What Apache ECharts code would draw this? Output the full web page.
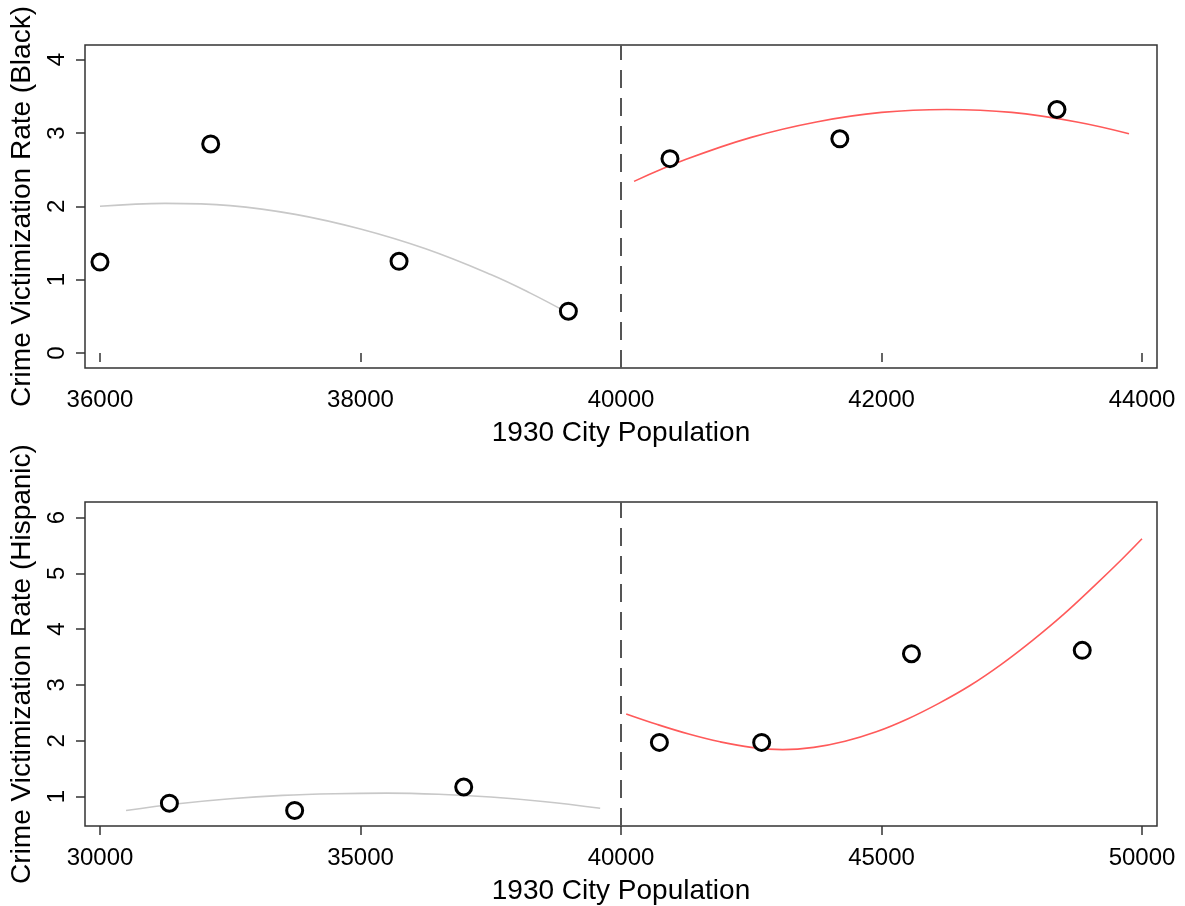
<!DOCTYPE html>
<html>
<head>
<meta charset="utf-8">
<title>Crime Victimization Rate by 1930 City Population</title>
<script src="https://cdn.jsdelivr.net/npm/echarts@6/dist/echarts.min.js"></script>
<style>
  html, body { margin: 0; padding: 0; background: #ffffff; }
  #chart { width: 1185px; height: 906px; }
</style>
</head>
<body>
<div id="chart"></div>
<script>
// ---- Top panel: Black victimization ----
const blackPopulation = [36000, 36850, 38296, 39596, 40376, 41680, 43347];
const blackRate       = [1.24, 2.85, 1.25, 0.57, 2.65, 2.92, 3.32];

// fitted curve below the 40000 cutoff
const blackFitLowX = [36000, 36500, 37000, 37500, 38000, 38500, 39000, 39300, 39600];
const blackFitLowY = [2.00, 2.04, 2.01, 1.89, 1.69, 1.42, 1.07, 0.82, 0.54];
// fitted curve above the cutoff
const blackFitHighX = [40100, 40500, 41000, 41500, 42000, 42500, 43000, 43500, 43900];
const blackFitHighY = [2.34, 2.64, 2.94, 3.15, 3.28, 3.32, 3.28, 3.15, 2.99];

// ---- Bottom panel: Hispanic victimization ----
const hispPopulation = [31332, 33736, 36981, 40737, 42700, 45575, 48853];
const hispRate       = [0.88, 0.75, 1.17, 1.97, 1.97, 3.56, 3.62];

const hispFitLowX = [30500, 31500, 32500, 33500, 34500, 35500, 36500, 37500, 38500, 39600];
const hispFitLowY = [0.75, 0.87, 0.96, 1.02, 1.05, 1.06, 1.04, 0.99, 0.91, 0.79];
const hispFitHighX = [40100, 40700, 41300, 41900, 42500, 43100, 43700, 44300, 44900, 45500,
                      46100, 46700, 47300, 47900, 48500, 49100, 49600, 50000];
const hispFitHighY = [2.48, 2.29, 2.12, 1.98, 1.88, 1.84, 1.88, 1.99, 2.16, 2.39,
                      2.67, 2.99, 3.37, 3.80, 4.27, 4.79, 5.24, 5.62];

// ---- axis ticks ----
const topXTicks = [36000, 38000, 40000, 42000, 44000];
const topYTicks = [0, 1, 2, 3, 4];
const bottomXTicks = [30000, 35000, 40000, 45000, 50000];
const bottomYTicks = [1, 2, 3, 4, 5, 6];
const cutoff = 40000;

const FONT = "'Liberation Sans', Arial, sans-serif";
const pair = (xs, ys) => xs.map((x, i) => [x, ys[i]]);

function xAxis(gridIndex, min, max, ticks) {
  return {
    type: 'value', gridIndex, min, max,
    name: '1930 City Population', nameLocation: 'middle', nameGap: 51,
    nameTextStyle: { color: '#000', fontSize: 28, fontFamily: FONT },
    axisLine: { show: false },
    splitLine: { show: false },
    axisTick: { show: true, length: 9, customValues: ticks, lineStyle: { color: '#333', width: 1.5 } },
    axisLabel: { customValues: ticks, margin: 20, color: '#000', fontSize: 24, fontFamily: FONT,
                 formatter: v => String(v) }
  };
}
function yAxis(gridIndex, min, max, ticks, name) {
  return {
    type: 'value', gridIndex, min, max,
    name, nameLocation: 'middle', nameGap: 49, nameRotate: 90,
    nameTextStyle: { color: '#000', fontSize: 28, fontFamily: FONT },
    axisLine: { show: false },
    splitLine: { show: false },
    axisTick: { show: true, length: 9, customValues: ticks, lineStyle: { color: '#333', width: 1.5 } },
    axisLabel: { customValues: ticks, rotate: 90, margin: 16, color: '#000', fontSize: 24, fontFamily: FONT,
                 formatter: v => String(v) }
  };
}

function fitLine(xi, yi, xs, ys, color) {
  return {
    type: 'line', xAxisIndex: xi, yAxisIndex: yi, data: pair(xs, ys),
    smooth: 0.4, showSymbol: false, symbol: 'none', silent: true,
    lineStyle: { color, width: 1.6 }
  };
}
function points(xi, yi, xs, ys) {
  return {
    type: 'scatter', xAxisIndex: xi, yAxisIndex: yi, data: pair(xs, ys),
    symbol: 'circle', symbolSize: 16, z: 5,
    itemStyle: { color: '#ffffff', borderColor: '#000', borderWidth: 3, opacity: 1 },
    markLine: {
      silent: true, symbol: 'none', label: { show: false },
      lineStyle: { color: '#555', width: 2, type: [18, 10] },
      data: [{ xAxis: cutoff }]
    }
  };
}

const chart = echarts.init(document.getElementById('chart'), null, { renderer: 'canvas' });
chart.setOption({
  animation: false,
  backgroundColor: '#ffffff',
  grid: [
    { left: 85, top: 45, width: 1072, height: 323, show: true, borderColor: '#333', borderWidth: 1.5, backgroundColor: 'transparent' },
    { left: 85, top: 502, width: 1072, height: 324, show: true, borderColor: '#333', borderWidth: 1.5, backgroundColor: 'transparent' }
  ],
  xAxis: [
    xAxis(0, 35885, 44115, topXTicks),
    xAxis(1, 29712, 50288, bottomXTicks)
  ],
  yAxis: [
    yAxis(0, -0.204, 4.199, topYTicks, 'Crime Victimization Rate (Black)'),
    yAxis(1, 0.471, 6.28, bottomYTicks, 'Crime Victimization Rate (Hispanic)')
  ],
  series: [
    fitLine(0, 0, blackFitLowX, blackFitLowY, '#c8c8c8'),
    fitLine(0, 0, blackFitHighX, blackFitHighY, '#ff5a5a'),
    points(0, 0, blackPopulation, blackRate),
    fitLine(1, 1, hispFitLowX, hispFitLowY, '#c8c8c8'),
    fitLine(1, 1, hispFitHighX, hispFitHighY, '#ff5a5a'),
    points(1, 1, hispPopulation, hispRate)
  ]
});
</script>
</body>
</html>
